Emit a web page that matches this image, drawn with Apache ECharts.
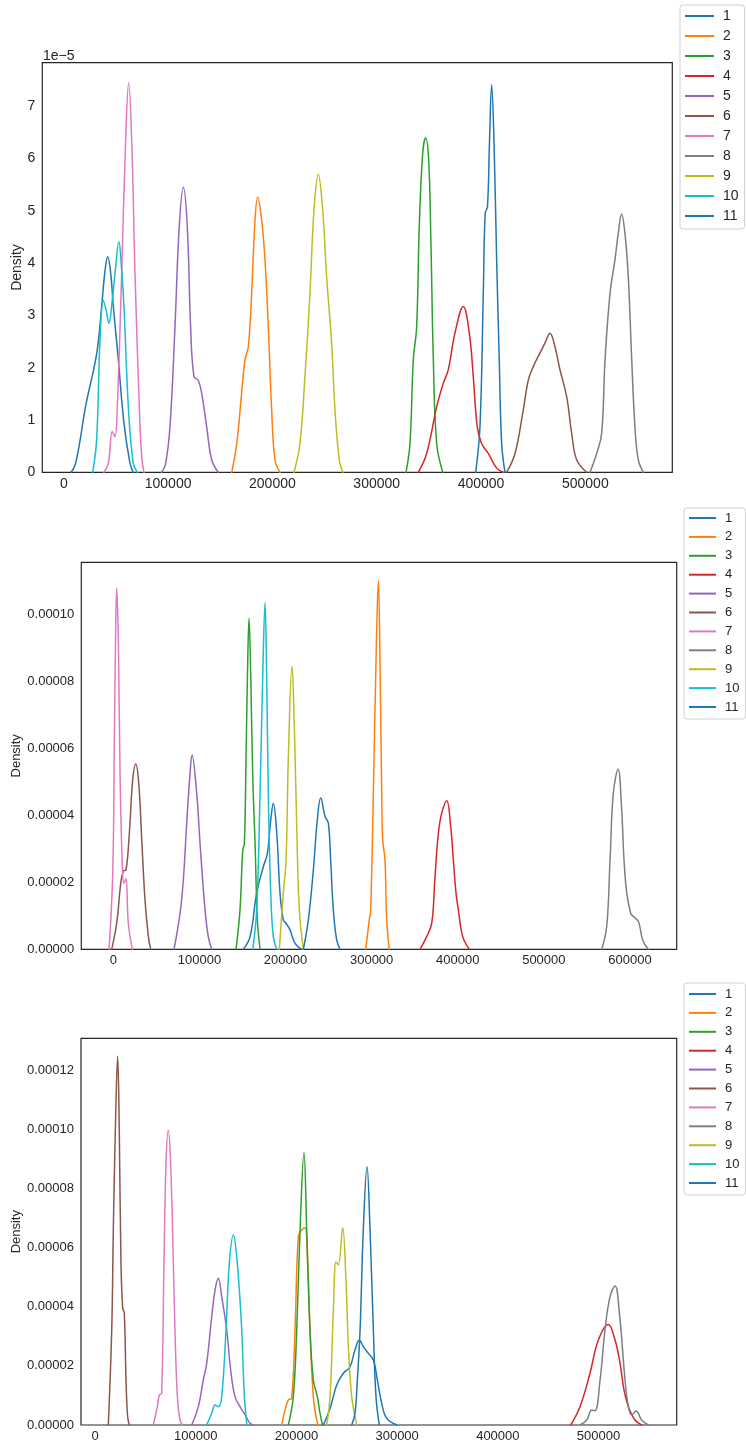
<!DOCTYPE html>
<html>
<head>
<meta charset="utf-8">
<script src="https://cdn.jsdelivr.net/npm/echarts@6/dist/echarts.min.js"></script>
<style>
html,body{margin:0;padding:0;background:#fff;}
#chart{width:746px;height:1448px;}
</style>
</head>
<body>
<div id="chart"></div>
<script>
// ---- data (x value, density in units of 1e-5) ----
const seriesNames = ['1','2','3','4','5','6','7','8','9','10','11'];
const palette = ['#1f77b4','#ff7f0e','#2ca02c','#d62728','#9467bd','#8c564b','#e377c2','#7f7f7f','#bcbd22','#17becf','#1f77b4'];

const xTicks1 = [0,100000,200000,300000,400000,500000];
const xTicks2 = [0,100000,200000,300000,400000,500000,600000];
const xTicks3 = [0,100000,200000,300000,400000,500000];

// plot 1
const p1s1 = [[6900,0],[11000,0.15],[15500,0.6],[20300,1.2],[24500,1.6],[28500,1.95],[32500,2.4],[36000,3.1],[39500,3.85],[42100,4.12],[45000,3.8],[47500,3.17],[52300,2.15],[57700,0.94],[63500,0.17],[66600,0]];
const p1s2 = [[161000,0],[165800,0.55],[170500,1.51],[173700,2.15],[176900,2.4],[180100,3.42],[183300,4.82],[185900,5.26],[189700,4.82],[192900,4.06],[196100,2.78],[199300,1.19],[202500,0.24],[207300,0]];
const p1s3 = [[328100,0],[331900,0.55],[335100,2.15],[338300,2.78],[340800,4.7],[344100,6.1],[346900,6.39],[349800,5.97],[352000,4.38],[354300,2.15],[357500,0.55],[363300,0]];
const p1s4 = [[339900,0],[347900,0.36],[357500,1.25],[363800,1.7],[368600,1.96],[375000,2.66],[383000,3.17],[388800,2.66],[392600,1.83],[396400,0.87],[400600,0.55],[407000,0.36],[415000,0.08],[421400,0]];
const p1s5 = [[93800,0],[97500,0.15],[101800,0.87],[106600,2.78],[110700,4.7],[114600,5.45],[118400,4.7],[121600,2.78],[124800,1.83],[128900,1.76],[132200,1.51],[137000,0.87],[141800,0.24],[148100,0]];
const p1s6 = [[424600,0],[432600,0.36],[440500,1.19],[445300,1.76],[450100,2.02],[456500,2.28],[461300,2.47],[466100,2.66],[470900,2.4],[475700,1.96],[482100,1.45],[486900,0.75],[491700,0.24],[501300,0]];
const p1s7 = [[38500,0],[42700,0.17],[46500,0.78],[49100,0.68],[51300,1.25],[55500,3.8],[59300,6.35],[62200,7.45],[65100,6.35],[68300,3.8],[72400,1.25],[74700,0.3],[76900,0]];
const p1s8 = [[504500,0],[510900,0.36],[515700,0.75],[518900,2.15],[523700,3.42],[528400,4.06],[531600,4.57],[534800,4.94],[538000,4.57],[541200,3.74],[544500,2.15],[547600,0.87],[550800,0.24],[555600,0]];
const p1s9 = [[220700,0],[226400,0.55],[231200,1.83],[236000,3.42],[239900,5.02],[244000,5.7],[248200,5.02],[252000,3.74],[256800,2.47],[260000,1.19],[264100,0.24],[267400,0]];
const p1s10 = [[27700,0],[31500,0.62],[34700,2.52],[37900,3.29],[40600,3.1],[43300,2.85],[46000,3.2],[49100,3.8],[52900,4.41],[55000,4.0],[57700,3.17],[61900,1.25],[66600,0.17],[70500,0]];
const p1s11 = [[394900,0],[399000,0.87],[402200,3.42],[404000,4.95],[406200,5.08],[408100,6.29],[410200,7.41],[412500,6.29],[415000,4.06],[417500,2.15],[419800,0.55],[423000,0]];

// plot 2
const p2s1 = [[151000,0],[158800,0.38],[166500,1.68],[174200,2.47],[178900,2.87],[182800,3.87],[185800,4.37],[189800,3.47],[193600,1.68],[197400,0.88],[200600,0.78],[205200,0.58],[211000,0.18],[218800,0]];
const p2s2 = [[293100,0],[297300,0.88],[298900,1.18],[302000,4.67],[305100,8.65],[307800,11.03],[309700,8.65],[311700,4.67],[312900,3.27],[315500,2.67],[317500,0.88],[320500,0]];
const p2s3 = [[142500,0],[147100,1.18],[150300,2.97],[152200,3.17],[154100,5.67],[156100,8.65],[157600,9.9],[159600,8.15],[161900,5.16],[164600,3.17],[167300,0.88],[170400,0]];
const p2s4 = [[356200,0],[363900,0.38],[369800,0.78],[373600,2.17],[377500,3.47],[381400,4.07],[387200,4.44],[391800,3.67],[394900,2.67],[398000,1.68],[400700,1.18],[405800,0.38],[413500,0]];
const p2s5 = [[70500,0],[77500,1.08],[81300,2.07],[85200,3.77],[89100,5.26],[91400,5.81],[96800,4.67],[100700,3.17],[106500,1.18],[110300,0.38],[114300,0]];
const p2s6 = [[-1900,0],[3900,0.78],[8600,1.97],[11600,2.34],[14700,2.37],[18600,3.47],[22500,5.06],[26000,5.54],[29500,4.97],[33000,3.27],[36800,1.47],[40700,0.38],[43400,0]];
const p2s7 = [[-5000,0],[-700,2.27],[1200,6.26],[2800,9.75],[3900,10.8],[5800,9.25],[7800,5.26],[10100,2.77],[12400,1.97],[14700,2.12],[17400,0.78],[22100,0]];
const p2s8 = [[567200,0],[573000,0.68],[576900,2.67],[580700,4.67],[586200,5.38],[590400,4.17],[593100,2.67],[596300,1.68],[600900,1.08],[603900,0.98],[609800,0.83],[614800,0.28],[621300,0]];
const p2s9 = [[192800,0],[197400,1.68],[200600,2.67],[203200,5.67],[207500,8.47],[210200,6.66],[213000,3.67],[216000,1.18],[220700,0]];
const p2s10 = [[161900,0],[166500,1.18],[170400,4.67],[173500,8.15],[176200,10.37],[178100,8.15],[180000,4.67],[182800,1.68],[185800,0.38],[189800,0]];
const p2s11 = [[220700,0],[226500,0.88],[232300,2.37],[236900,3.87],[240900,4.52],[245900,3.97],[249700,3.77],[252400,2.67],[255500,1.18],[259400,0.28],[263300,0]];

// plot 3
const p3s1 = [[226700,0],[233400,0.56],[240000,1.35],[246600,1.75],[253200,1.97],[258200,2.54],[262500,2.87],[266400,2.65],[271400,2.42],[276400,2.2],[280400,1.52],[284700,0.73],[289600,0.23],[299600,0]];
const p3s2 = [[185400,0],[188700,0.51],[192000,0.85],[195300,0.9],[198600,3.21],[201900,6.37],[205200,6.59],[208500,6.67],[211200,5.47],[213500,3.21],[216800,0.96],[220100,0.17],[221700,0]];
const p3s3 = [[192000,0],[196900,0.96],[200300,3.21],[203600,6.59],[207500,9.21],[210200,6.59],[213500,3.21],[216800,1.52],[220800,0.96],[223400,0.4],[225900,0]];
const p3s4 = [[472300,0],[481600,0.62],[491500,1.75],[499800,2.87],[509700,3.4],[516400,2.87],[521300,2.09],[525300,1.18],[529600,0.62],[536200,0.17],[542900,0]];
const p3s5 = [[96000,0],[102600,0.62],[107500,1.52],[110900,2.08],[115900,3.66],[119200,4.56],[122500,4.96],[125800,4.34],[130800,3.21],[134700,1.86],[139000,0.96],[144000,0.62],[149000,0.34],[153900,0.06],[157200,0]];
const p3s6 = [[13200,0],[16600,3.21],[18200,6.6],[20200,9.97],[22500,12.47],[24100,9.97],[25800,5.47],[27500,3.95],[29100,3.78],[30800,1.52],[32400,0.28],[34100,0]];
const p3s7 = [[57900,0],[61900,0.62],[63900,1.01],[66200,1.07],[68500,5.47],[70500,8.85],[72800,9.95],[75100,8.85],[77800,5.47],[79400,3.21],[81800,0.96],[84400,0.17],[87100,0]];
const p3s8 = [[481600,0],[488300,0.17],[493200,0.51],[496500,0.48],[501500,1.52],[506400,3.21],[511400,4.34],[516400,4.7],[520700,3.78],[526300,1.52],[529600,0.62],[532900,0.34],[537200,0.47],[542900,0.17],[549400,0]];
const p3s9 = [[230100,0],[233400,0.96],[236600,3.78],[239300,5.52],[241600,5.41],[245900,6.67],[249200,4.9],[251600,2.65],[254900,0.96],[259900,0]];
const p3s10 = [[110900,0],[115900,0.4],[119200,0.68],[122500,0.62],[125800,0.96],[130100,3.21],[133400,5.47],[137400,6.42],[141300,5.47],[145700,3.21],[148000,1.18],[150700,0]];
const p3s11 = [[254900,0],[258200,0.4],[260500,1.52],[263200,3.21],[266400,6.59],[270100,8.73],[273100,6.59],[276400,3.21],[279000,0.96],[282300,0]];

const plot1 = [p1s1,p1s2,p1s3,p1s4,p1s5,p1s6,p1s7,p1s8,p1s9,p1s10,p1s11];
const plot2 = [p2s1,p2s2,p2s3,p2s4,p2s5,p2s6,p2s7,p2s8,p2s9,p2s10,p2s11];
const plot3 = [p3s1,p3s2,p3s3,p3s4,p3s5,p3s6,p3s7,p3s8,p3s9,p3s10,p3s11];

// ---- layout ----
const FONT = '"Liberation Sans", Arial, sans-serif';
const TXT = '#262626';
const grids = [
  {left: 42.3, top: 62.7, width: 630, height: 409.6},
  {left: 81.3, top: 562.3, width: 595.4, height: 387},
  {left: 81, top: 1038.3, width: 595.7, height: 386.7}
];
const xRanges = [[-20600, 583400], [-37200, 654300], [-13900, 577600]];
const yMaxes = [7.832, 11.57, 13.07];
const yIntervals = [1, 2, 2];
const xTickSets = [xTicks1, xTicks2, xTicks3];
const fontSizes = [14, 13, 13];
const plots = [plot1, plot2, plot3];

const option = {
  animation: false,
  backgroundColor: '#ffffff',
  grid: grids.map(g => Object.assign({show: true, borderColor: TXT, borderWidth: 1.2, backgroundColor: 'transparent', containLabel: false, outerBoundsMode: 'none'}, g)),
  xAxis: grids.map((g, i) => ({
    type: 'value', gridIndex: i, min: xRanges[i][0], max: xRanges[i][1],
    axisLine: {show: false}, axisTick: {show: false}, splitLine: {show: false},
    axisLabel: {customValues: xTickSets[i], color: TXT, fontFamily: FONT, fontSize: fontSizes[i], margin: 5,
      formatter: v => String(Math.round(v))}
  })),
  yAxis: grids.map((g, i) => ({
    type: 'value', gridIndex: i, min: 0, max: yMaxes[i], interval: yIntervals[i],
    axisLine: {show: false}, axisTick: {show: false}, splitLine: {show: false},
    axisLabel: {color: TXT, fontFamily: FONT, fontSize: fontSizes[i], margin: 7, showMaxLabel: false,
      formatter: i === 0 ? (v => String(v)) : (v => (v * 1e-5).toFixed(5))}
  })),
  legend: [
    {left: 680, top: 5, padding: [4, 6, 6, 5], itemGap: 6, itemWidth: 29, fontSize: 14},
    {left: 684, top: 508, padding: [3.5, 6, 5.5, 5], itemGap: 5.9, itemWidth: 27, fontSize: 13},
    {left: 684, top: 983, padding: [4.5, 6, 5.5, 5], itemGap: 5.9, itemWidth: 27, fontSize: 13}
  ].map(l => ({
    data: seriesNames, orient: 'vertical', left: l.left, top: l.top, padding: l.padding,
    itemGap: l.itemGap, itemWidth: l.itemWidth, itemHeight: 2, icon: 'rect',
    backgroundColor: '#ffffff', borderColor: '#d0d0d0', borderWidth: 1, borderRadius: 3,
    selectedMode: false,
    textStyle: {color: TXT, fontFamily: FONT, fontSize: l.fontSize, lineHeight: l.fontSize, padding: [0, 0, 0, 4]}
  })),
  series: [],
  graphic: [
    {type: 'text', x: 17.5, y: 267.5, rotation: Math.PI / 2, style: {text: 'Density', fill: TXT, font: '14px ' + FONT, textAlign: 'center', textVerticalAlign: 'middle'}},
    {type: 'text', x: 16.5, y: 755.8, rotation: Math.PI / 2, style: {text: 'Density', fill: TXT, font: '13px ' + FONT, textAlign: 'center', textVerticalAlign: 'middle'}},
    {type: 'text', x: 16.5, y: 1231.7, rotation: Math.PI / 2, style: {text: 'Density', fill: TXT, font: '13px ' + FONT, textAlign: 'center', textVerticalAlign: 'middle'}},
    {type: 'text', x: 43, y: 63, style: {text: '1e\u22125', fill: TXT, font: '14px ' + FONT, textAlign: 'left', textVerticalAlign: 'bottom'}}
  ]
};

plots.forEach((plot, pi) => {
  plot.forEach((data, si) => {
    option.series.push({
      type: 'line', name: seriesNames[si], xAxisIndex: pi, yAxisIndex: pi,
      data: data, showSymbol: false, symbol: 'none', smooth: 0.4,
      clip: true, silent: true,
      itemStyle: {color: palette[si]},
      lineStyle: {color: palette[si], width: 1.5, join: 'round', cap: 'round'}
    });
  });
});

const chart = echarts.init(document.getElementById('chart'), null, {renderer: 'canvas', width: 746, height: 1448});
chart.setOption(option);
</script>
</body>
</html>
